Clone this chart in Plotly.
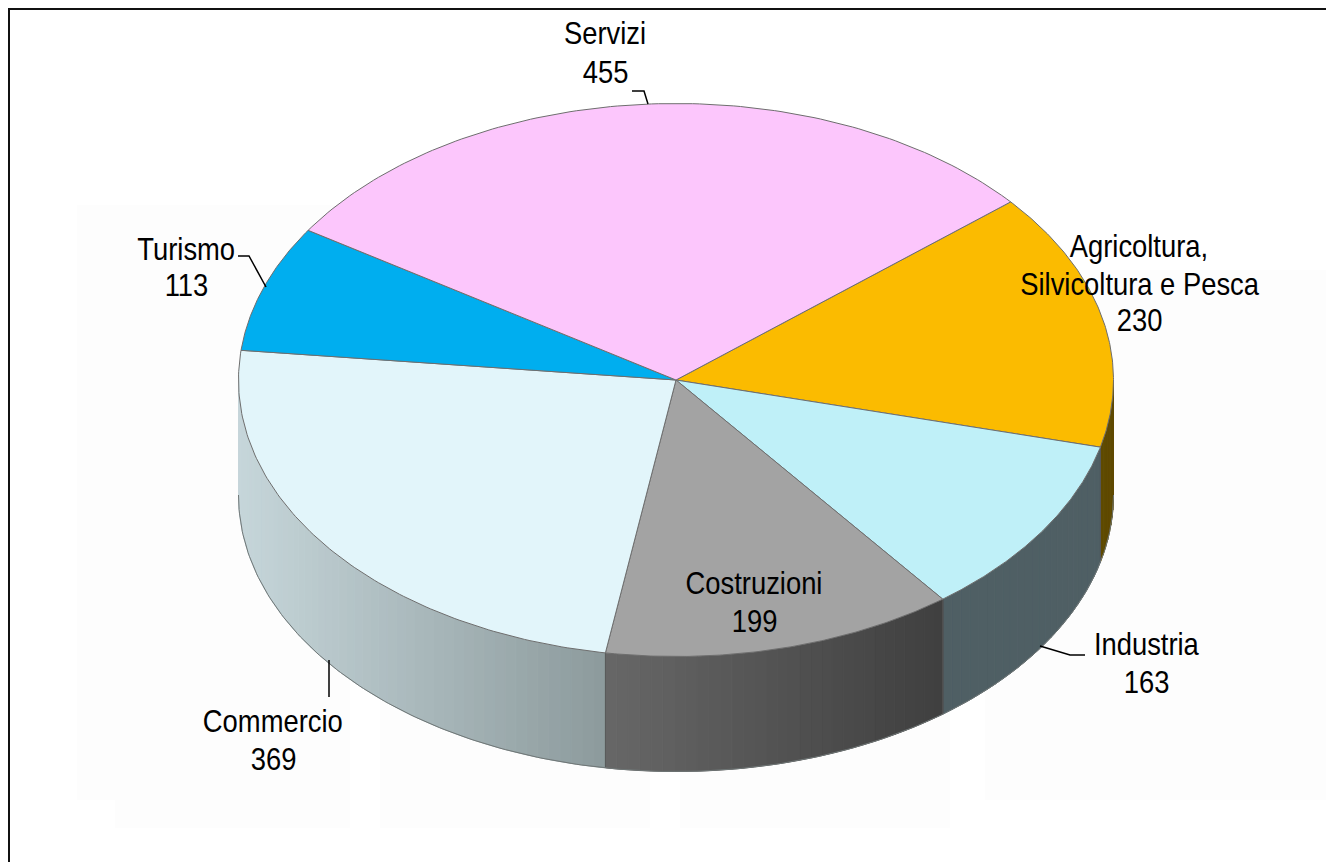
import numpy as np
import plotly.graph_objects as go

# ---- data -------------------------------------------------------------
categories = ["Agricoltura, Silvicoltura e Pesca", "Industria", "Costruzioni",
              "Commercio", "Turismo", "Servizi"]
values = [230, 163, 199, 369, 113, 455]
top_colors = ["#fbbb00", "#bff0f8", "#a3a3a3", "#e2f5fa", "#00aeef", "#fcc6fc"]
# side shading: colour at the left and at the right end of the slice's visible rim
side_left = ["#5f4a00", "#4f5f64", "#676767", "#c6d6da", "#00aeef", "#fcc6fc"]
side_right = ["#5f4a00", "#4f5f64", "#3f3f3f", "#8c9a9c", "#00aeef", "#fcc6fc"]

label_lines = [["Agricoltura,", "Silvicoltura e Pesca", "230"], ["Industria", "163"],
               ["Costruzioni", "199"], ["Commercio", "369"], ["Turismo", "113"],
               ["Servizi", "455"]]

# ---- layout constants (pixel-scaled axes) -------------------------------
W, H = 1326, 862
CX, CY, RX, RY, DEPTH = 676, 380, 437.5, 276.5, 115
START_DEG = 49.9
FONT = "Liberation Sans, Arial"
FSIZE = 32
NARROW = 0.855

label_pos = [(1139, [246, 284, 320]), (1146, [644, 682]), (754, [583, 621]),
             (273, [721, 759]), (186, [249, 285]), (605, [33, 72])]
leaders = [None,
           ([1040, 1070, 1085], [646, 655, 655]),
           None,
           ([329, 329], [660, 697]),
           ([238, 249, 266], [256, 256, 287]),
           ([632, 644, 648], [91, 91, 104])]
faint_blocks = [(77, 205, 350, 800), (115, 700, 350, 828), (380, 700, 650, 828),
                (680, 700, 950, 828), (985, 270, 1326, 800)]


def rim(deg, dy=0.0):
    a = np.radians(deg)
    return CX + RX * np.sin(a), CY - RY * np.cos(a) + dy


def hex2rgb(h):
    return np.array([int(h[i:i + 2], 16) for i in (1, 3, 5)], float)


def mix(a, b, t):
    c = hex2rgb(a) * (1 - t) + hex2rgb(b) * t
    return "rgb(%d,%d,%d)" % tuple(np.round(c))


total = sum(values)
edges = START_DEG + np.concatenate([[0], np.cumsum(values)]) * 360.0 / total

fig = go.Figure()


def poly(x, y, fill, line=None, width=1):
    fig.add_trace(go.Scatter(x=x, y=y, mode="lines", fill="toself", fillcolor=fill,
                             line=dict(color=line or fill, width=width),
                             hoverinfo="skip", showlegend=False))


# side wall: thin strips along the front half of the rim, shaded by horizontal position
for i in range(len(values)):
    a0, a1 = max(edges[i], 90), min(edges[i + 1], 270)
    if a1 <= a0:
        continue
    n = max(2, int((a1 - a0) / 1.5))
    steps = np.linspace(a0, a1, n + 1)
    xl, xr = rim(a1)[0], rim(a0)[0]
    for j in range(n):
        seg = np.linspace(steps[j], steps[j + 1], 4)
        xt, yt = rim(seg)
        xb, yb = rim(seg, DEPTH)
        t = (xt.mean() - xl) / (xr - xl)
        poly(np.r_[xt, xb[::-1], xt[0]], np.r_[yt, yb[::-1], yt[0]],
             mix(side_left[i], side_right[i], t))
    for a in (a0, a1):
        if 90 < a < 270:
            x0, y0 = rim(a)
            fig.add_trace(go.Scatter(x=[x0, x0], y=[y0, y0 + DEPTH], mode="lines",
                                     line=dict(color="#555555", width=1),
                                     hoverinfo="skip", showlegend=False))

front = np.linspace(90, 270, 240)
xb, yb = rim(front, DEPTH)
fig.add_trace(go.Scatter(x=xb, y=yb, mode="lines", line=dict(color="#6f7676", width=1),
                         hoverinfo="skip", showlegend=False))

# top face
for i in range(len(values)):
    seg = np.linspace(edges[i], edges[i + 1], 120)
    x, y = rim(seg)
    poly(np.r_[CX, x, CX], np.r_[CY, y, CY], top_colors[i], line="#6e6e6e", width=1)

# leader lines
for ld in leaders:
    if ld:
        fig.add_trace(go.Scatter(x=ld[0], y=ld[1], mode="lines",
                                 line=dict(color="#000000", width=1.5),
                                 hoverinfo="skip", showlegend=False))

# frame
fig.add_trace(go.Scatter(x=[W, 9, 9], y=[9, 9, H], mode="lines",
                         line=dict(color="#111111", width=2),
                         hoverinfo="skip", showlegend=False))

annotations = []
for lines, (lx, lys) in zip(label_lines, label_pos):
    for txt, ly in zip(lines, lys):
        annotations.append(dict(x=lx, y=ly, text=txt, showarrow=False, xanchor="center",
                                yanchor="middle",
                                font=dict(family=FONT, size=FSIZE, color="#000000")))

shapes = [dict(type="rect", x0=a, y0=b, x1=c, y1=d, line_width=0, fillcolor="#fdfdfd",
               layer="below") for a, b, c, d in faint_blocks]

fig.update_layout(
    width=W, height=H, margin=dict(l=0, r=0, t=0, b=0),
    paper_bgcolor="#ffffff", plot_bgcolor="#ffffff", showlegend=False,
    xaxis=dict(range=[0, W], visible=False, fixedrange=True),
    yaxis=dict(range=[H, 0], visible=False, fixedrange=True),
    annotations=annotations, shapes=shapes,
)
squeeze = (
    "document.body.style.margin='0';document.body.style.overflow='hidden';"
    "document.querySelectorAll('.annotation-text').forEach(function(t){"
    "t.setAttribute('textLength', t.getComputedTextLength()*%s);"
    "t.setAttribute('lengthAdjust','spacingAndGlyphs');});" % NARROW
)
fig.write_html("out.html", config={"displayModeBar": False}, post_script=squeeze)
